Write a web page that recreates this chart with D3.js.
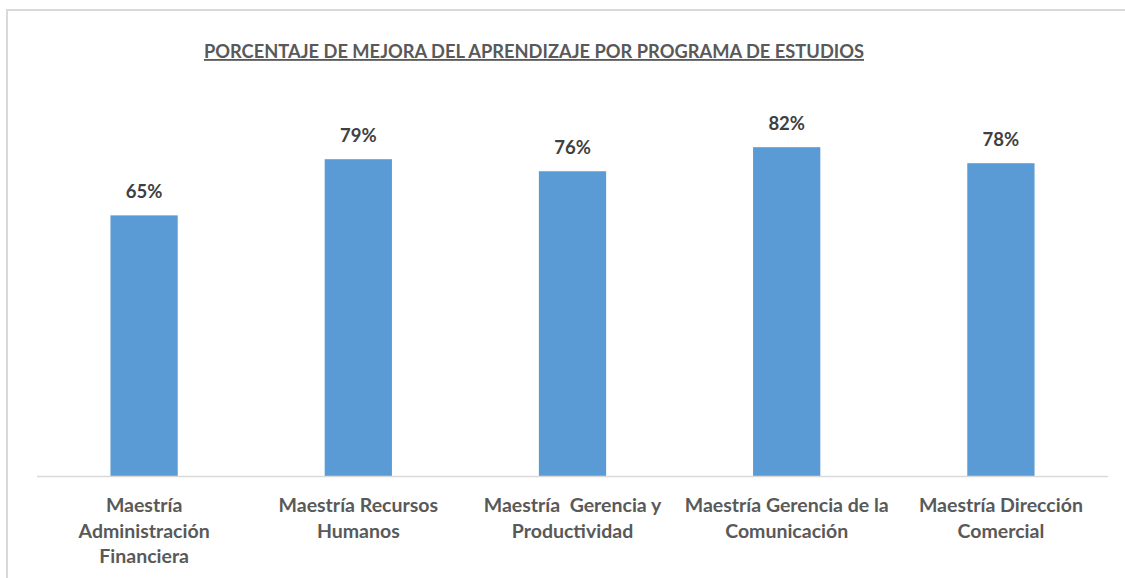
<!DOCTYPE html>
<html>
<head>
<meta charset="utf-8">
<script src="https://cdn.jsdelivr.net/npm/d3@7"></script>
<style>
  body { margin: 0; background: #fff; }
  text { font-family: Lato, "Open Sans", sans-serif; font-weight: bold; fill: #595959; }
</style>
</head>
<body>
<div id="chart"></div>
<script>
var title = "PORCENTAJE DE MEJORA DEL APRENDIZAJE POR PROGRAMA DE ESTUDIOS";
var categories = [
  "Maestría Administración Financiera",
  "Maestría Recursos Humanos",
  "Maestría  Gerencia y Productividad",
  "Maestría Gerencia de la Comunicación",
  "Maestría Dirección Comercial"
];
// line breaks as they appear under each bar
var categoryLines = [
  ["Maestría", "Administración", "Financiera"],
  ["Maestría Recursos", "Humanos"],
  ["Maestría  Gerencia y", "Productividad"],
  ["Maestría Gerencia de la", "Comunicación"],
  ["Maestría Dirección", "Comercial"]
];
var values = [65, 79, 76, 82, 78];

var W = 1125, H = 578;
var margin = { top: 75, right: 17, bottom: 102, left: 37 };
var width = W - margin.left - margin.right,
    height = H - margin.top - margin.bottom;

var svg = d3.select("#chart").append("svg")
  .attr("width", W).attr("height", H);

// frame
svg.append("rect")
  .attr("x", 7).attr("y", 10)
  .attr("width", W + 20).attr("height", H + 20)
  .style("fill", "none").style("stroke", "#d9d9d9").style("stroke-width", 2);

var g = svg.append("g")
  .attr("transform", "translate(" + margin.left + "," + margin.top + ")");

var x = d3.scaleBand().domain(categories).range([0, width]).paddingInner(0.686).paddingOuter(0.343);
var y = d3.scaleLinear().domain([0, 100]).range([height, 0]);

g.selectAll("rect.bar")
  .data(values)
  .enter()
  .append("rect")
  .attr("class", "bar")
  .attr("x", function (d, i) { return x(categories[i]); })
  .attr("y", function (d) { return y(d); })
  .attr("width", x.bandwidth())
  .attr("height", function (d) { return height - y(d); })
  .style("fill", "#5b9bd5");

g.append("line")
  .attr("x1", 0).attr("x2", width)
  .attr("y1", height + 0.5).attr("y2", height + 0.5)
  .style("stroke", "#d9d9d9").style("stroke-width", 1.5);

g.selectAll("text.val")
  .data(values)
  .enter()
  .append("text")
  .attr("class", "val")
  .attr("x", function (d, i) { return x(categories[i]) + x.bandwidth() / 2; })
  .attr("y", function (d) { return y(d) - 17; })
  .attr("text-anchor", "middle")
  .style("font-size", "18.5px")
  .style("fill", "#404040")
  .text(function (d) { return d + "%"; });

var labels = g.selectAll("text.cat")
  .data(categoryLines)
  .enter()
  .append("text")
  .attr("class", "cat")
  .attr("text-anchor", "middle")
  .attr("transform", function (d, i) {
    return "translate(" + (x(categories[i]) + x.bandwidth() / 2) + "," + (height + 36) + ")";
  })
  .style("font-size", "19.5px")
  .style("white-space", "pre");

labels.each(function (lines) {
  var t = d3.select(this);
  lines.forEach(function (l, k) {
    t.append("tspan").attr("x", 0).attr("y", k * 25.5).text(l);
  });
});

svg.append("text")
  .attr("x", 534).attr("y", 58)
  .attr("text-anchor", "middle")
  .style("font-size", "18.3px")
  .style("text-decoration", "underline")
  .text(title);
</script>
</body>
</html>
